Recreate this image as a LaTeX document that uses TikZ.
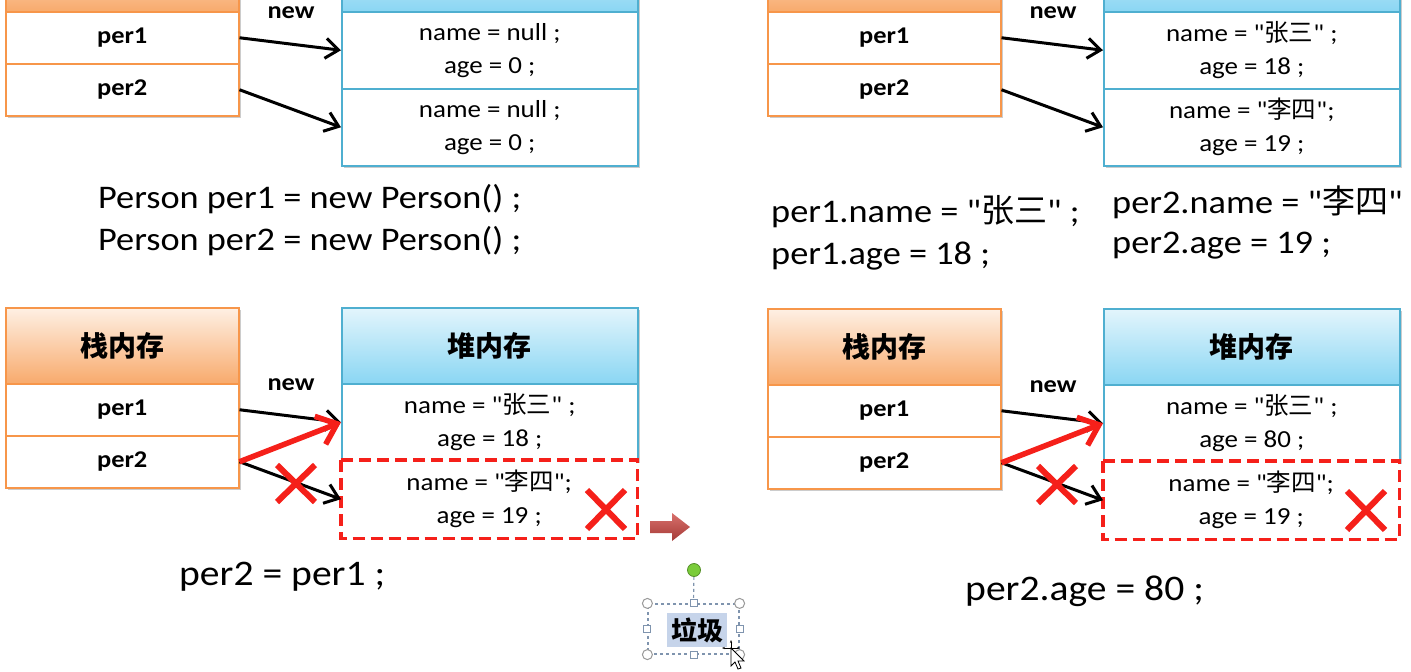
\documentclass[tikz,border=0pt]{standalone}
\usepackage{fontspec}
\setmainfont{Carlito}[FakeStretch=1.1, Ligatures=TeXOff]
\newfontfamily\cjk{Noto Sans CJK SC}
\usetikzlibrary{arrows.meta,shadows}
\definecolor{stb}{HTML}{F7964A}
\definecolor{sttop}{HTML}{FEF0E4}
\definecolor{stbot}{HTML}{F8AA6C}
\definecolor{hpb}{HTML}{4FAFD0}
\definecolor{hptop}{HTML}{E3F5FC}
\definecolor{hpbot}{HTML}{8AD6F3}
\definecolor{redc}{HTML}{F5201A}
\definecolor{selc}{HTML}{7F94AE}
\definecolor{hl}{HTML}{C6D4EA}
\definecolor{barr1}{HTML}{D8706C}
\definecolor{barr2}{HTML}{A53A36}
\definecolor{grn}{HTML}{7ACC3A}
\begin{document}
\begin{tikzpicture}[x=1pt,y=-1pt,
  shd/.style={drop shadow={shadow xshift=2pt,shadow yshift=-2pt,opacity=0.2,fill=black}},
  sthead/.style={shd,draw=stb,line width=1.5pt,top color=sttop,bottom color=stbot,minimum width=233pt,minimum height=76pt,anchor=north west,inner sep=0pt,font=\cjk\bfseries\fontsize{28}{30}\selectfont},
  strow/.style={shd,draw=stb,fill=white,line width=1.5pt,minimum width=233pt,minimum height=52pt,anchor=north west,inner sep=0pt,font=\bfseries\fontsize{24}{28}\selectfont},
  hphead/.style={shd,draw=hpb,line width=1.5pt,top color=hptop,bottom color=hpbot,minimum width=296pt,minimum height=76pt,anchor=north west,inner sep=0pt,font=\cjk\bfseries\fontsize{28}{30}\selectfont},
  hprow/.style={shd,draw=hpb,fill=white,line width=1.5pt,minimum width=296pt,minimum height=77pt,anchor=north west,inner sep=0pt,align=center,font=\fontsize{24.5}{33}\selectfont},
  hpgone/.style={fill=white,minimum width=296pt,minimum height=78pt,anchor=north west,inner sep=0pt,align=center,font=\fontsize{24.5}{33}\selectfont},
  dashbox/.style={draw=redc,line width=3.5pt,dash pattern=on 12pt off 6pt},
  newlbl/.style={inner sep=0pt,font=\bfseries\fontsize{24}{28}\selectfont},
  code/.style={anchor=base west,inner sep=0pt,font=\fontsize{33}{40}\selectfont},
  bigcode/.style={anchor=base west,inner sep=0pt,font=\fontsize{36}{40}\selectfont},
  blk/.style={draw=black,line width=3pt,-{Straight Barb[length=13pt,width=20pt]}},
  redarr/.style={draw=redc,line width=5.5pt,-{Straight Barb[length=18pt,width=30pt]}},
  xmark/.style={draw=redc,line width=6pt},
  corner/.style={circle,draw=gray!80,fill=white,line width=1pt,minimum size=10pt,inner sep=0pt},
  sq/.style={rectangle,draw=selc,fill=white,line width=1pt,minimum size=7pt,inner sep=0pt}
]
\path[use as bounding box] (0,0) rectangle (1411,672);
\clip (0,0) rectangle (1411,672);
\fill[white] (0,0) rectangle (1411,672);

% ---------- top left ----------
\begin{scope}[name prefix=tl-]
\node[sthead] (sh) at (5,-65) {};
\node[strow] (s1) at (5,11) {per1};
\node[strow] (s2) at (5,63) {per2};
\node[hphead] (hh) at (341,-65) {};
\node[hprow] (h1) at (341,11) {name = null ;\\age = 0 ;};
\node[hprow] (h2) at (341,88) {name = null ;\\age = 0 ;};
\node[newlbl] (nw) at (291,13) {new};
\draw[blk] (s1.east) -- (h1.west);
\draw[blk] (s2.east) -- (h2.west);
\node[code] (c1) at (98,208) {Person per1 = new Person() ;};
\node[code] (c2) at (98,250) {Person per2 = new Person() ;};
\end{scope}

% ---------- top right ----------
\begin{scope}[shift={(762,0)},name prefix=tr-]
\node[sthead] (sh) at (5,-65) {};
\node[strow] (s1) at (5,11) {per1};
\node[strow] (s2) at (5,63) {per2};
\node[hphead] (hh) at (341,-65) {};
\node[hprow] (h1) at (341,11) {name = "{\cjk 张三}" ;\\age = 18 ;};
\node[hprow] (h2) at (341,88) {name = "{\cjk 李四}";\\age = 19 ;};
\node[newlbl] (nw) at (291,13) {new};
\draw[blk] (s1.east) -- (h1.west);
\draw[blk] (s2.east) -- (h2.west);
\end{scope}
\node[code] (trc1) at (771,222) {per1.name = "{\cjk 张三}" ;};
\node[code] (trc2) at (771,264) {per1.age = 18 ;};
\node[code] (trc3) at (1112,213) {per2.name = "{\cjk 李四}"};
\node[code] (trc4) at (1112,253) {per2.age = 19 ;};

% ---------- bottom left ----------
\begin{scope}[name prefix=bl-]
\node[sthead] (sh) at (5,307) {栈内存};
\node[strow] (s1) at (5,383) {per1};
\node[strow] (s2) at (5,435) {per2};
\node[hphead] (hh) at (341,307) {堆内存};
\node[hprow] (h1) at (341,383) {name = "{\cjk 张三}" ;\\age = 18 ;};
\node[hpgone] (h2) at (341,460) {name = "{\cjk 李四}";\\age = 19 ;};
\draw[dashbox] (h2.north west) rectangle (h2.south east);
\node[newlbl] (nw) at (291,385) {new};
\draw[blk] (s1.east) -- (h1.west);
\draw[blk] (s2.east) -- (h2.west);
\draw[redarr] (s2.east) -- (h1.west);
\draw[xmark] (277,465) -- (315,502) (277,502) -- (315,465);
\draw[xmark] (587,490) -- (625,529) (587,529) -- (625,490);
\end{scope}
\node[bigcode] (blc) at (179,585) {per2 = per1 ;};

% block arrow
\shade[top color=barr1,bottom color=barr2] (650,521) -- (672,521) -- (672,513) -- (690,527) -- (672,541) -- (672,533) -- (650,533) -- cycle;

% ---------- bottom right ----------
\begin{scope}[shift={(762,1)},name prefix=br-]
\node[sthead] (sh) at (5,307) {栈内存};
\node[strow] (s1) at (5,383) {per1};
\node[strow] (s2) at (5,435) {per2};
\node[hphead] (hh) at (341,307) {堆内存};
\node[hprow] (h1) at (341,383) {name = "{\cjk 张三}" ;\\age = 80 ;};
\node[hpgone] (h2) at (341,460) {name = "{\cjk 李四}";\\age = 19 ;};
\draw[dashbox] (h2.north west) rectangle (h2.south east);
\node[newlbl] (nw) at (291,386) {new};
\draw[blk] (s1.east) -- (h1.west);
\draw[blk] (s2.east) -- (h2.west);
\draw[redarr] (s2.east) -- (h1.west);
\draw[xmark] (276,465) -- (314,502) (276,502) -- (314,465);
\draw[xmark] (585,490) -- (623,529) (585,529) -- (623,490);
\end{scope}
\node[bigcode] (brc) at (965,600) {per2.age = 80 ;};

% ---------- selected text box ----------
\node[draw=selc,dashed,line width=1.2pt,minimum width=91pt,minimum height=50pt,inner sep=0pt] (sel) at (693.5,629) {};
\node[circle,fill=grn,draw=grn!70!black,line width=0.8pt,minimum size=13pt,inner sep=0pt] (rot) at (694,570) {};
\draw[selc,dashed,line width=1.2pt] (rot) -- (sel.north);
\node[fill=hl,minimum width=60pt,minimum height=34pt,inner sep=0pt,font=\cjk\bfseries\fontsize{26}{28}\selectfont] (lj) at (697,630) {垃圾};
\foreach \a in {north west,north east,south west,south east} \node[corner] at (sel.\a) {};
\foreach \a in {north,south,west,east} \node[sq] at (sel.\a) {};
% cursor
\draw[line width=1pt,-{Stealth[length=3pt]}] (731,648) -- (731,640);
\draw[line width=1pt,-{Stealth[length=3pt]}] (731,648) -- (722,648);
\draw[line width=1pt,-{Stealth[length=3pt]}] (731,648) -- (740,648);
\draw[fill=white,line width=0.8pt] (731,648) -- (731,666) -- (735,662) -- (738,669) -- (741,668) -- (738,661) -- (744,661) -- cycle;
\end{tikzpicture}
\end{document}
